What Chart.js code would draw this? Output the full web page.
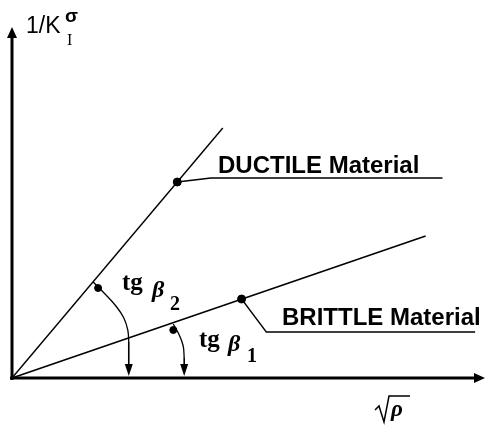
<!DOCTYPE html>
<html>
<head>
<meta charset="utf-8">
<script src="https://cdn.jsdelivr.net/npm/chart.js@4"></script>
<style>
html,body{margin:0;padding:0;background:#fff;}
#wrap{width:492px;height:427px;}
</style>
</head>
<body>
<div id="wrap"><canvas id="c" width="492" height="427"></canvas></div>
<script>
// ---- data (schematic units: x = sqrt(rho), y = 1/K) ----
const ductileLine   = [{x:0,y:0},{x:213,y:250}];
const brittleLine   = [{x:0,y:0},{x:418,y:142}];
const ductileLeader = [{x:167,y:196},{x:201,y:200},{x:435,y:200}];
const brittleLeader = [{x:232,y:79},{x:257,y:46},{x:468,y:46}];
const beta2Arc      = [{x:82,y:96},{x:93,y:85},{x:105,y:72},{x:113,y:60},{x:117,y:48},{x:118,y:36}];
const beta1Arc      = [{x:163,y:54},{x:169,y:43},{x:173,y:32},{x:174,y:20}];
const beta2Drop     = [{x:118,y:36},{x:118,y:10}];
const beta1Drop     = [{x:174,y:20},{x:174,y:10}];
const bigDots       = [{x:167,y:196},{x:232,y:79}];
const smallDots     = [{x:87,y:90},{x:163,y:48}];
const arrowTips     = [{x:118,y:2},{x:174,y:2}];
const xAxisRange    = [-2,478];
const yAxisRange    = [-2,351];
const labels = {
  ductile:'DUCTILE Material', brittle:'BRITTLE Material',
  yTitle:'1/K', ySup:'σ', ySub:'I', xTitle:'ρ', tg:'tg', beta:'β', sub1:'1', sub2:'2'
};

function lineDs(data, w, tension){
  return {data, showLine:true, borderColor:'#000', borderWidth:w, pointRadius:0, tension:tension||0, fill:false, clip:false};
}

const decor = {
  id:'decor',
  afterDatasetsDraw(chart){
    const {ctx, scales:{x, y}} = chart;
    const px = v => x.getPixelForValue(v), py = v => y.getPixelForValue(v);
    ctx.save();
    ctx.fillStyle = '#000'; ctx.strokeStyle = '#000';
    // axes
    ctx.lineWidth = 3;
    ctx.beginPath();
    ctx.moveTo(px(xAxisRange[0]), py(0)); ctx.lineTo(px(xAxisRange[1]) - 6, py(0));
    ctx.moveTo(px(0), py(yAxisRange[0])); ctx.lineTo(px(0), py(yAxisRange[1]) + 6);
    ctx.stroke();
    // axis arrowheads
    const xe = px(xAxisRange[1]), ye = py(yAxisRange[1]);
    ctx.beginPath(); ctx.moveTo(xe, py(0)); ctx.lineTo(xe-11, py(0)-5); ctx.lineTo(xe-11, py(0)+5); ctx.closePath(); ctx.fill();
    ctx.beginPath(); ctx.moveTo(px(0), ye); ctx.lineTo(px(0)-5, ye+11); ctx.lineTo(px(0)+5, ye+11); ctx.closePath(); ctx.fill();
    // drop arrowheads
    arrowTips.forEach(p => {
      const tx = px(p.x), ty = py(p.y);
      ctx.beginPath(); ctx.moveTo(tx, ty); ctx.lineTo(tx-4, ty-12); ctx.lineTo(tx+4, ty-12); ctx.closePath(); ctx.fill();
    });
    // text
    ctx.textBaseline = 'alphabetic';
    ctx.font = 'bold 24px "Liberation Sans", Arial, sans-serif';
    ctx.fillText(labels.ductile, 218, 173);
    ctx.fillText(labels.brittle, 282, 325);
    // tg beta
    ctx.font = 'bold 25px "Liberation Serif", serif';
    ctx.fillText(labels.tg, 122, 290);
    ctx.fillText(labels.tg, 199, 347);
    ctx.font = 'italic bold 24px "Liberation Serif", serif';
    ctx.fillText(labels.beta, 152, 297);
    ctx.fillText(labels.beta, 228, 351);
    ctx.font = 'bold 20px "Liberation Serif", serif';
    ctx.fillText(labels.sub2, 170, 310);
    ctx.fillText(labels.sub1, 247, 362);
    // y title
    ctx.font = '23px "Liberation Sans", Arial, sans-serif';
    ctx.fillText(labels.yTitle, 26, 33);
    ctx.font = 'bold 19px "Liberation Sans", Arial, sans-serif';
    ctx.fillText(labels.ySup, 65, 22);
    ctx.font = '16px "Liberation Serif", serif';
    ctx.fillText(labels.ySub, 67, 45);
    // x title: sqrt(rho)
    ctx.lineWidth = 1.5;
    ctx.beginPath();
    ctx.moveTo(375, 410); ctx.lineTo(379, 406); ctx.lineTo(384, 422); ctx.lineTo(389, 396); ctx.lineTo(410, 396);
    ctx.stroke();
    ctx.font = 'italic bold 23px "Liberation Serif", serif';
    ctx.fillText(labels.xTitle, 391, 416);
    ctx.restore();
  }
};

new Chart(document.getElementById('c'), {
  type:'scatter',
  data:{datasets:[
    lineDs(ductileLine, 1.4),
    lineDs(brittleLine, 1.6),
    lineDs(ductileLeader, 1.6),
    lineDs(brittleLeader, 1.3),
    lineDs(beta2Arc, 1.3, 0.4),
    lineDs(beta1Arc, 1.3, 0.4),
    lineDs(beta2Drop, 1.6),
    lineDs(beta1Drop, 1.6),
    {data:bigDots, showLine:false, pointRadius:4, pointBackgroundColor:'#000', pointBorderColor:'#000', clip:false},
    {data:smallDots, showLine:false, pointRadius:3.5, pointBackgroundColor:'#000', pointBorderColor:'#000', clip:false}
  ]},
  options:{
    responsive:false, animation:false, devicePixelRatio:1,
    layout:{padding:{left:12, right:0, top:26, bottom:49}},
    plugins:{legend:{display:false}, tooltip:{enabled:false}},
    scales:{
      x:{type:'linear', min:0, max:480, display:false},
      y:{type:'linear', min:0, max:352, display:false}
    }
  },
  plugins:[decor]
});
</script>
</body>
</html>
